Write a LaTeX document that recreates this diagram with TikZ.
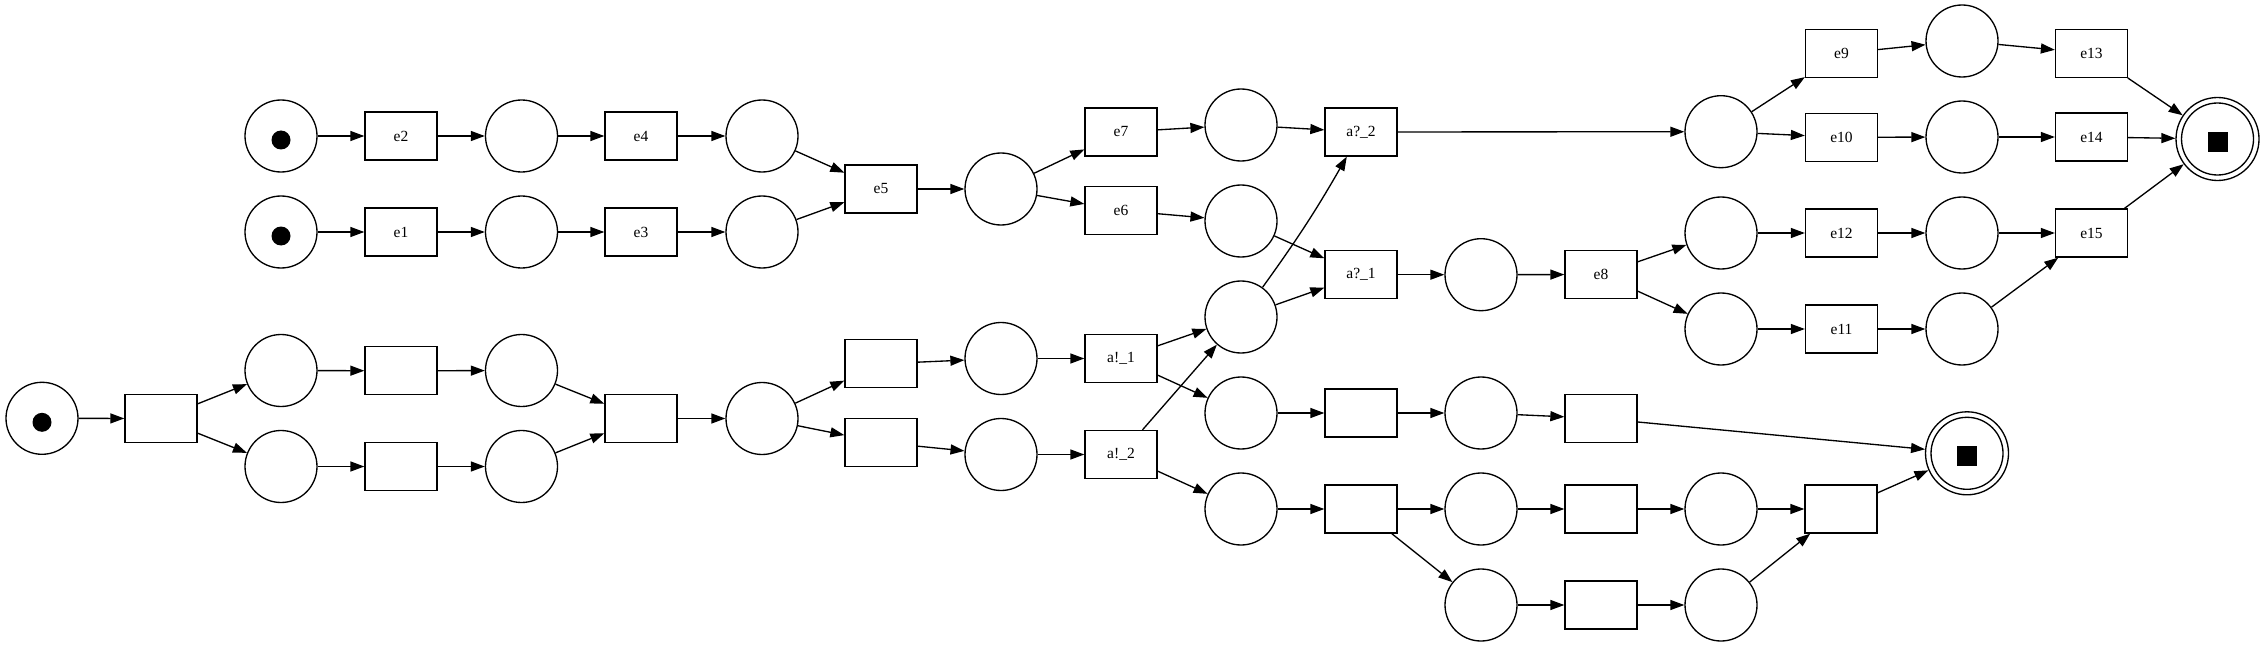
\documentclass[tikz,border=0pt]{standalone}
\usepackage{fontspec}
\setmainfont{Liberation Serif}
\usetikzlibrary{arrows.meta}
\tikzset{
  lw/.style={line width=1.33pt},
  place/.style={circle, draw, lw, minimum size=72pt, inner sep=0pt},
  tokenplace/.style={place, path picture={\fill ([yshift=-4pt]path picture bounding box.center) circle (9.5pt);}},
  finalplace/.style={circle, draw, lw, minimum size=83pt, inner sep=0pt,
    path picture={\draw[lw] (path picture bounding box.center) circle (36pt);
      \fill ([yshift=-3pt]path picture bounding box.center) +(-10pt,-10pt) rectangle +(10pt,10pt);}},
  trans/.style={rectangle, draw, lw, minimum width=72pt, minimum height=48pt, inner sep=0pt,
    font=\fontsize{15.5pt}{18pt}\selectfont},
  arc/.style={lw, -{Triangle[length=14pt,width=10pt]}}
}
\begin{document}
\begin{tikzpicture}[x=1pt,y=-1pt]
\useasboundingbox (0,0) rectangle (2264,647);
% upper part
\node[tokenplace] (pA) at (281,136) {};
\node[trans] (e2) at (401,136) {e2};
\node[place] (pB) at (521.5,136) {};
\node[trans] (e4) at (641,136) {e4};
\node[place] (pC) at (762,136) {};
\node[tokenplace] (pD) at (281,232) {};
\node[trans] (e1) at (401,232) {e1};
\node[place] (pE) at (521.5,232) {};
\node[trans] (e3) at (641,232) {e3};
\node[place] (pF) at (762,232) {};
\node[trans] (e5) at (881,189) {e5};
\node[place] (pG) at (1001,189) {};
\node[trans] (e7) at (1121,132) {e7};
\node[trans] (e6) at (1121,210.5) {e6};
\node[place] (pH) at (1241,125) {};
\node[place] (pI) at (1241,221) {};
\node[trans] (a2q) at (1361,132) {a?\_2};
\node[trans] (a1q) at (1361,274.7) {a?\_1};
\node[place] (pJ) at (1481,274.7) {};
\node[trans] (e8) at (1601,274.5) {e8};
\node[place] (pK) at (1721,131.7) {};
\node[trans] (e9) at (1841.5,53.3) {e9};
\node[trans] (e10) at (1841.5,137.3) {e10};
\node[place] (pL) at (1962,41) {};
\node[place] (pM) at (1962,137) {};
\node[trans] (e13) at (2091.5,53.3) {e13};
\node[trans] (e14) at (2091.5,137) {e14};
\node[finalplace] (fin1) at (2217.5,139) {};
\node[place] (pN) at (1721,233) {};
\node[trans] (e12) at (1841.5,233) {e12};
\node[place] (pO) at (1962,233) {};
\node[trans] (e15) at (2091.5,233) {e15};
\node[place] (pP) at (1721,329) {};
\node[trans] (e11) at (1841.5,329) {e11};
\node[place] (pQ) at (1962,329) {};
% lower part
\node[tokenplace] (q0) at (42,418.3) {};
\node[trans] (t0) at (161,418.5) {};
\node[place] (q1) at (281,370.5) {};
\node[trans] (t1) at (401,370.8) {};
\node[place] (q2) at (521.5,370.5) {};
\node[place] (q3) at (281,466.5) {};
\node[trans] (t2) at (401,466.5) {};
\node[place] (q4) at (521.5,466.5) {};
\node[trans] (t3) at (641,418.5) {};
\node[place] (q5) at (762,418.5) {};
\node[trans] (t4) at (881,363.8) {};
\node[trans] (t5) at (881,442.5) {};
\node[place] (q6) at (1001,358.5) {};
\node[place] (q7) at (1001,454.5) {};
\node[trans] (a1x) at (1121,358.5) {a!\_1};
\node[trans] (a2x) at (1121,454.5) {a!\_2};
\node[place] (q8) at (1241,317) {};
\node[place] (q9) at (1241,413) {};
\node[place] (q10) at (1241,509) {};
\node[trans] (t6) at (1361,413) {};
\node[place] (q11) at (1481,413) {};
\node[trans] (t7) at (1601,418.5) {};
\node[finalplace] (fin2) at (1967,453.3) {};
\node[trans] (t8) at (1361,509) {};
\node[place] (q12) at (1481,509) {};
\node[trans] (t9) at (1601,509) {};
\node[place] (q13) at (1721,509) {};
\node[trans] (t10) at (1841,509) {};
\node[place] (q14) at (1481,605) {};
\node[trans] (t11) at (1601,605) {};
\node[place] (q15) at (1721,605) {};
% arcs upper
\draw[arc] (pA) -- (e2);
\draw[arc] (e2) -- (pB);
\draw[arc] (pB) -- (e4);
\draw[arc] (e4) -- (pC);
\draw[arc] (pC) -- (e5);
\draw[arc] (pD) -- (e1);
\draw[arc] (e1) -- (pE);
\draw[arc] (pE) -- (e3);
\draw[arc] (e3) -- (pF);
\draw[arc] (pF) -- (e5);
\draw[arc] (e5) -- (pG);
\draw[arc] (pG) -- (e7);
\draw[arc] (pG) -- (e6);
\draw[arc] (e7) -- (pH);
\draw[arc] (pH) -- (a2q);
\draw[arc] (e6) -- (pI);
\draw[arc] (pI) -- (a1q);
\draw[arc] (q8) to[bend right=3] (a2q);
\draw[arc] (q8) -- (a1q);
\draw[arc] (a2q) -- (pK);
\draw[arc] (a1q) -- (pJ);
\draw[arc] (pJ) -- (e8);
\draw[arc] (e8) -- (pN);
\draw[arc] (e8) -- (pP);
\draw[arc] (pK) -- (e9);
\draw[arc] (pK) -- (e10);
\draw[arc] (e9) -- (pL);
\draw[arc] (pL) -- (e13);
\draw[arc] (e10) -- (pM);
\draw[arc] (pM) -- (e14);
\draw[arc] (e13) -- (fin1);
\draw[arc] (e14) -- (fin1);
\draw[arc] (e15) -- (fin1);
\draw[arc] (pN) -- (e12);
\draw[arc] (e12) -- (pO);
\draw[arc] (pO) -- (e15);
\draw[arc] (pP) -- (e11);
\draw[arc] (e11) -- (pQ);
\draw[arc] (pQ) -- (e15);
% arcs lower
\draw[arc] (q0) -- (t0);
\draw[arc] (t0) -- (q1);
\draw[arc] (t0) -- (q3);
\draw[arc] (q1) -- (t1);
\draw[arc] (t1) -- (q2);
\draw[arc] (q3) -- (t2);
\draw[arc] (t2) -- (q4);
\draw[arc] (q2) -- (t3);
\draw[arc] (q4) -- (t3);
\draw[arc] (t3) -- (q5);
\draw[arc] (q5) -- (t4);
\draw[arc] (q5) -- (t5);
\draw[arc] (t4) -- (q6);
\draw[arc] (t5) -- (q7);
\draw[arc] (q6) -- (a1x);
\draw[arc] (q7) -- (a2x);
\draw[arc] (a1x) -- (q8);
\draw[arc] (a1x) -- (q9);
\draw[arc] (a2x) -- (q8);
\draw[arc] (a2x) -- (q10);
\draw[arc] (q9) -- (t6);
\draw[arc] (t6) -- (q11);
\draw[arc] (q11) -- (t7);
\draw[arc] (t7) -- (fin2);
\draw[arc] (q10) -- (t8);
\draw[arc] (t8) -- (q12);
\draw[arc] (t8) -- (q14);
\draw[arc] (q12) -- (t9);
\draw[arc] (t9) -- (q13);
\draw[arc] (q13) -- (t10);
\draw[arc] (q14) -- (t11);
\draw[arc] (t11) -- (q15);
\draw[arc] (q15) -- (t10);
\draw[arc] (t10) -- (fin2);
\end{tikzpicture}
\end{document}
